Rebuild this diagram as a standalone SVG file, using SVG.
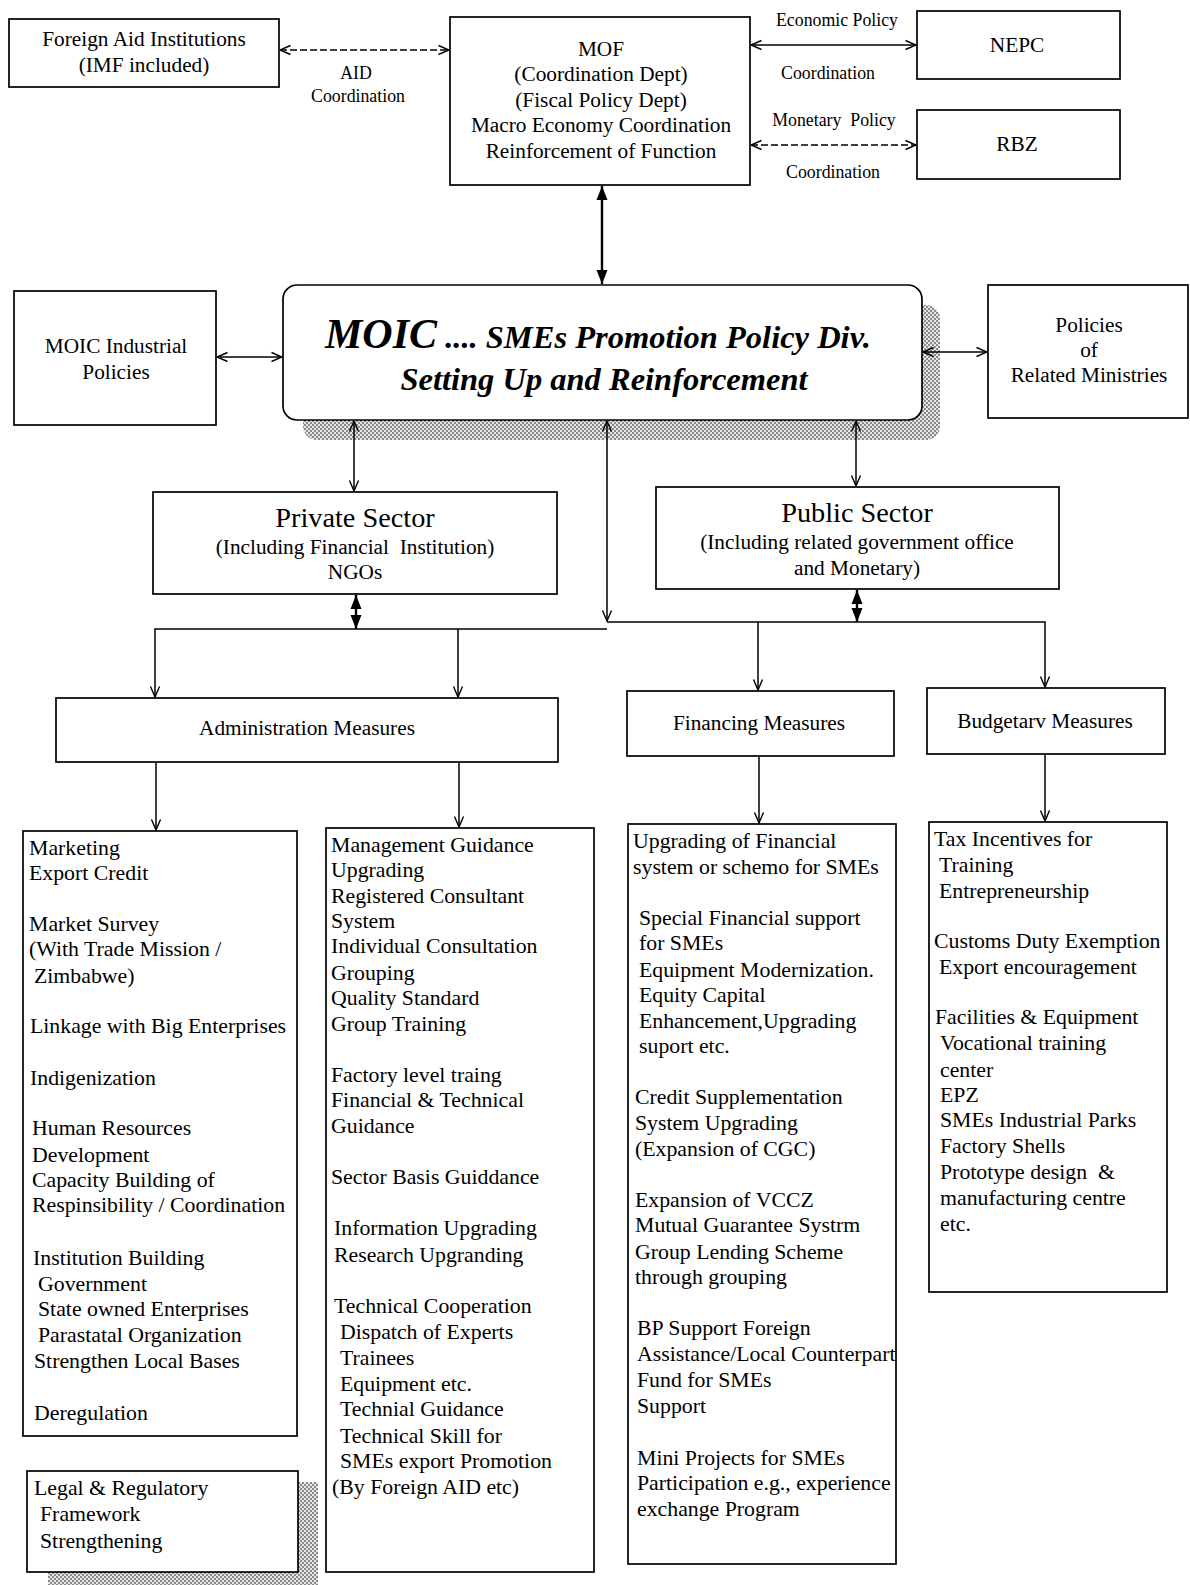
<svg xmlns="http://www.w3.org/2000/svg" width="1190" height="1585" viewBox="0 0 1190 1585">
<style>
  .box{fill:#fff;stroke:#000;stroke-width:1.7}
  .t{font-family:"Liberation Serif","Times New Roman",serif;font-size:21.3px;fill:#000}
  .col .t{font-size:21.8px}
  .c{text-anchor:middle}
  .lbl{font-family:"Liberation Serif","Times New Roman",serif;font-size:17.8px;fill:#000;text-anchor:middle}
  .big{font-family:"Liberation Serif","Times New Roman",serif;font-size:28.3px;fill:#000;text-anchor:middle}
  .title{font-family:"Liberation Serif","Times New Roman",serif;font-weight:bold;font-style:italic;fill:#000;text-anchor:middle}
  .ln{fill:none;stroke:#000;stroke-width:1.5}
  .bold{fill:none;stroke:#000;stroke-width:2.4}
  .dash{stroke-dasharray:7 3}
</style>
<defs>
  <pattern id="dots" width="4" height="4" patternUnits="userSpaceOnUse">
    <rect width="4" height="4" fill="#e6e6e6"/>
    <rect x="0" y="0" width="2" height="2" fill="#8a8a8a"/>
    <rect x="2" y="2" width="2" height="2" fill="#8a8a8a"/>
  </pattern>
  <marker id="open" viewBox="0 0 12 12" refX="11.5" refY="6" markerWidth="12" markerHeight="12" markerUnits="userSpaceOnUse" orient="auto-start-reverse">
    <path d="M1,1.5 L11.5,6 L1,10.5" fill="none" stroke="#000" stroke-width="1.4"/>
  </marker>
  <marker id="fill" viewBox="0 0 14 12" refX="14" refY="6" markerWidth="14" markerHeight="12" markerUnits="userSpaceOnUse" orient="auto-start-reverse">
    <path d="M0,0.5 L14,6 L0,11.5 Z" fill="#000"/>
  </marker>
</defs>
<rect width="1190" height="1585" fill="#fff"/>

<g id="foreign-aid">
  <rect class="box" x="9" y="19" width="270" height="68"/>
  <text class="t c" x="144" y="46">Foreign Aid Institutions</text>
  <text class="t c" x="144" y="72">(IMF included)</text>
</g>
<g id="aid-label">
  <text class="lbl" x="356" y="79">AID</text>
  <text class="lbl" x="358" y="102">Coordination</text>
</g>

<g id="mof">
  <rect class="box" x="450" y="17" width="300" height="168"/>
  <text class="t c" x="601" y="56">MOF</text>
  <text class="t c" x="601" y="81">(Coordination Dept)</text>
  <text class="t c" x="601" y="107">(Fiscal Policy Dept)</text>
  <text class="t c" x="601" y="132">Macro Economy Coordination</text>
  <text class="t c" x="601" y="158">Reinforcement of Function</text>
</g>

<g id="policy-labels">
  <text class="lbl" x="837" y="26">Economic Policy</text>
  <text class="lbl" x="828" y="79">Coordination</text>
  <text class="lbl" x="834" y="126">Monetary&#160; Policy</text>
  <text class="lbl" x="833" y="178">Coordination</text>
</g>

<g id="nepc">
  <rect class="box" x="917" y="11" width="203" height="68"/>
  <text class="t c" x="1017" y="52">NEPC</text>
</g>
<g id="rbz">
  <rect class="box" x="917" y="110" width="203" height="69"/>
  <text class="t c" x="1017" y="151">RBZ</text>
</g>

<g id="moic">
  <rect x="303" y="305" width="637" height="135" rx="14" fill="url(#dots)"/>
  <rect class="box" x="283" y="285" width="639" height="135" rx="14" stroke-width="2.2"/>
  <text class="title" x="598" y="348"><tspan font-size="42">MOIC</tspan><tspan font-size="32.5"> .... SMEs Promotion Policy Div.</tspan></text>
  <text class="title" x="604" y="390" font-size="32.5">Setting Up and Reinforcement</text>
</g>

<g id="moic-industrial">
  <rect class="box" x="14" y="291" width="202" height="134"/>
  <text class="t c" x="116" y="353">MOIC Industrial</text>
  <text class="t c" x="116" y="379">Policies</text>
</g>

<g id="related-ministries">
  <rect class="box" x="988" y="285" width="200" height="133"/>
  <text class="t c" x="1089" y="332">Policies</text>
  <text class="t c" x="1089" y="357">of</text>
  <text class="t c" x="1089" y="382">Related Ministries</text>
</g>

<g id="private-sector">
  <rect class="box" x="153" y="492" width="404" height="102"/>
  <text class="big" x="355" y="527">Private Sector</text>
  <text class="t c" x="355" y="554">(Including Financial&#160; Institution)</text>
  <text class="t c" x="355" y="579">NGOs</text>
</g>

<g id="public-sector">
  <rect class="box" x="656" y="487" width="403" height="102"/>
  <text class="big" x="857" y="522">Public Sector</text>
  <text class="t c" x="857" y="549">(Including related government office</text>
  <text class="t c" x="857" y="575">and Monetary)</text>
</g>

<g id="administration">
  <rect class="box" x="56" y="698" width="502" height="64"/>
  <text class="t c" x="307" y="735">Administration Measures</text>
</g>
<g id="financing">
  <rect class="box" x="627" y="691" width="267" height="65"/>
  <text class="t c" x="759" y="730">Financing Measures</text>
</g>
<g id="budgetary">
  <rect class="box" x="927" y="688" width="238" height="66"/>
  <text class="t c" x="1045" y="728">Budgetarv Measures</text>
</g>

<g id="admin-list-1" class="col">
  <rect class="box" x="23" y="831" width="274" height="605"/>
  <text class="t" x="29" y="855">Marketing</text>
  <text class="t" x="29" y="880">Export Credit</text>
  <text class="t" x="29" y="931">Market Survey</text>
  <text class="t" x="29" y="956">(With Trade Mission /</text>
  <text class="t" x="34" y="983">Zimbabwe)</text>
  <text class="t" x="30" y="1033">Linkage with Big Enterprises</text>
  <text class="t" x="30" y="1085">Indigenization</text>
  <text class="t" x="32" y="1135">Human Resources</text>
  <text class="t" x="32" y="1162">Development</text>
  <text class="t" x="32" y="1187">Capacity Building of</text>
  <text class="t" x="32" y="1212">Respinsibility / Coordination</text>
  <text class="t" x="33" y="1265">Institution Building</text>
  <text class="t" x="38" y="1291">Government</text>
  <text class="t" x="38" y="1316">State owned Enterprises</text>
  <text class="t" x="38" y="1342">Parastatal Organization</text>
  <text class="t" x="34" y="1368">Strengthen Local Bases</text>
  <text class="t" x="34" y="1420">Deregulation</text>
</g>

<g id="legal" class="col">
  <rect x="48" y="1482" width="270" height="103" fill="url(#dots)"/>
  <rect class="box" x="27" y="1471" width="271" height="101"/>
  <text class="t" x="34" y="1495">Legal &amp; Regulatory</text>
  <text class="t" x="40" y="1521">Framework</text>
  <text class="t" x="40" y="1548">Strengthening</text>
</g>

<g id="admin-list-2" class="col">
  <rect class="box" x="326" y="828" width="268" height="744"/>
  <text class="t" x="331" y="852">Management Guidance</text>
  <text class="t" x="331" y="877">Upgrading</text>
  <text class="t" x="331" y="903">Registered Consultant</text>
  <text class="t" x="331" y="928">System</text>
  <text class="t" x="331" y="953">Individual Consultation</text>
  <text class="t" x="331" y="980">Grouping</text>
  <text class="t" x="331" y="1005">Quality Standard</text>
  <text class="t" x="331" y="1031">Group Training</text>
  <text class="t" x="331" y="1082">Factory level traing</text>
  <text class="t" x="331" y="1107">Financial &amp; Technical</text>
  <text class="t" x="331" y="1133">Guidance</text>
  <text class="t" x="331" y="1184">Sector Basis Guiddance</text>
  <text class="t" x="334" y="1235">Information Upgrading</text>
  <text class="t" x="334" y="1262">Research Upgranding</text>
  <text class="t" x="334" y="1313">Technical Cooperation</text>
  <text class="t" x="340" y="1339">Dispatch of Experts</text>
  <text class="t" x="340" y="1365">Trainees</text>
  <text class="t" x="340" y="1391">Equipment etc.</text>
  <text class="t" x="340" y="1416">Technial Guidance</text>
  <text class="t" x="340" y="1443">Technical Skill for</text>
  <text class="t" x="340" y="1468">SMEs export Promotion</text>
  <text class="t" x="332" y="1494">(By Foreign AID etc)</text>
</g>

<g id="financing-list" class="col">
  <rect class="box" x="628" y="824" width="268" height="740"/>
  <text class="t" x="633" y="848">Upgrading of Financial</text>
  <text class="t" x="633" y="874">system or schemo for SMEs</text>
  <text class="t" x="639" y="925">Special Financial support</text>
  <text class="t" x="639" y="950">for SMEs</text>
  <text class="t" x="639" y="977">Equipment Modernization.</text>
  <text class="t" x="639" y="1002">Equity Capital</text>
  <text class="t" x="639" y="1028">Enhancement,Upgrading</text>
  <text class="t" x="639" y="1053">suport etc.</text>
  <text class="t" x="635" y="1104">Credit Supplementation</text>
  <text class="t" x="635" y="1130">System Upgrading</text>
  <text class="t" x="635" y="1156">(Expansion of CGC)</text>
  <text class="t" x="635" y="1207">Expansion of VCCZ</text>
  <text class="t" x="635" y="1232">Mutual Guarantee Systrm</text>
  <text class="t" x="635" y="1259">Group Lending Scheme</text>
  <text class="t" x="635" y="1284">through grouping</text>
  <text class="t" x="637" y="1335">BP Support Foreign</text>
  <text class="t" x="637" y="1361">Assistance/Local Counterpart</text>
  <text class="t" x="637" y="1387">Fund for SMEs</text>
  <text class="t" x="637" y="1413">Support</text>
  <text class="t" x="637" y="1465">Mini Projects for SMEs</text>
  <text class="t" x="637" y="1490">Participation e.g., experience</text>
  <text class="t" x="637" y="1516">exchange Program</text>
</g>

<g id="budgetary-list" class="col">
  <rect class="box" x="929" y="822" width="238" height="470"/>
  <text class="t" x="934" y="846">Tax Incentives for</text>
  <text class="t" x="939" y="872">Training</text>
  <text class="t" x="939" y="898">Entrepreneurship</text>
  <text class="t" x="934" y="948">Customs Duty Exemption</text>
  <text class="t" x="939" y="974">Export encouragement</text>
  <text class="t" x="935" y="1024">Facilities &amp; Equipment</text>
  <text class="t" x="940" y="1050">Vocational training</text>
  <text class="t" x="940" y="1077">center</text>
  <text class="t" x="940" y="1102">EPZ</text>
  <text class="t" x="940" y="1127">SMEs Industrial Parks</text>
  <text class="t" x="940" y="1153">Factory Shells</text>
  <text class="t" x="940" y="1179">Prototype design&#160; &amp;</text>
  <text class="t" x="940" y="1205">manufacturing centre</text>
  <text class="t" x="940" y="1231">etc.</text>
</g>

<g id="connectors">
  <line class="ln dash" x1="280" y1="50" x2="449" y2="50" marker-start="url(#open)" marker-end="url(#open)"/>
  <line class="ln" x1="751" y1="45" x2="916" y2="45" marker-start="url(#open)" marker-end="url(#open)"/>
  <line class="ln dash" x1="751" y1="145" x2="916" y2="145" marker-start="url(#open)" marker-end="url(#open)"/>
  <line class="bold" x1="602" y1="186" x2="602" y2="284" marker-start="url(#fill)" marker-end="url(#fill)"/>
  <line class="ln" x1="217" y1="357" x2="282" y2="357" marker-start="url(#open)" marker-end="url(#open)"/>
  <line class="ln" x1="923" y1="352" x2="987" y2="352" marker-start="url(#open)" marker-end="url(#open)"/>
  <line class="ln" x1="354" y1="421" x2="354" y2="491" marker-start="url(#open)" marker-end="url(#open)"/>
  <line class="ln" x1="856" y1="421" x2="856" y2="486" marker-start="url(#open)" marker-end="url(#open)"/>
  <line class="ln" x1="607" y1="421" x2="607" y2="621" marker-start="url(#open)" marker-end="url(#open)"/>
  <line class="bold" x1="356" y1="595" x2="356" y2="629" marker-start="url(#fill)" marker-end="url(#fill)"/>
  <line class="bold" x1="857" y1="590" x2="857" y2="622" marker-start="url(#fill)" marker-end="url(#fill)"/>
  <path class="ln" d="M607,629 H155 V697" marker-end="url(#open)"/>
  <line class="ln" x1="458" y1="629" x2="458" y2="697" marker-end="url(#open)"/>
  <path class="ln" d="M607,622 H1045 V687" marker-end="url(#open)"/>
  <line class="ln" x1="758" y1="622" x2="758" y2="690" marker-end="url(#open)"/>
  <line class="ln" x1="156" y1="763" x2="156" y2="830" marker-end="url(#open)"/>
  <line class="ln" x1="459" y1="763" x2="459" y2="827" marker-end="url(#open)"/>
  <line class="ln" x1="759" y1="757" x2="759" y2="823" marker-end="url(#open)"/>
  <line class="ln" x1="1045" y1="755" x2="1045" y2="821" marker-end="url(#open)"/>
</g>
</svg>
